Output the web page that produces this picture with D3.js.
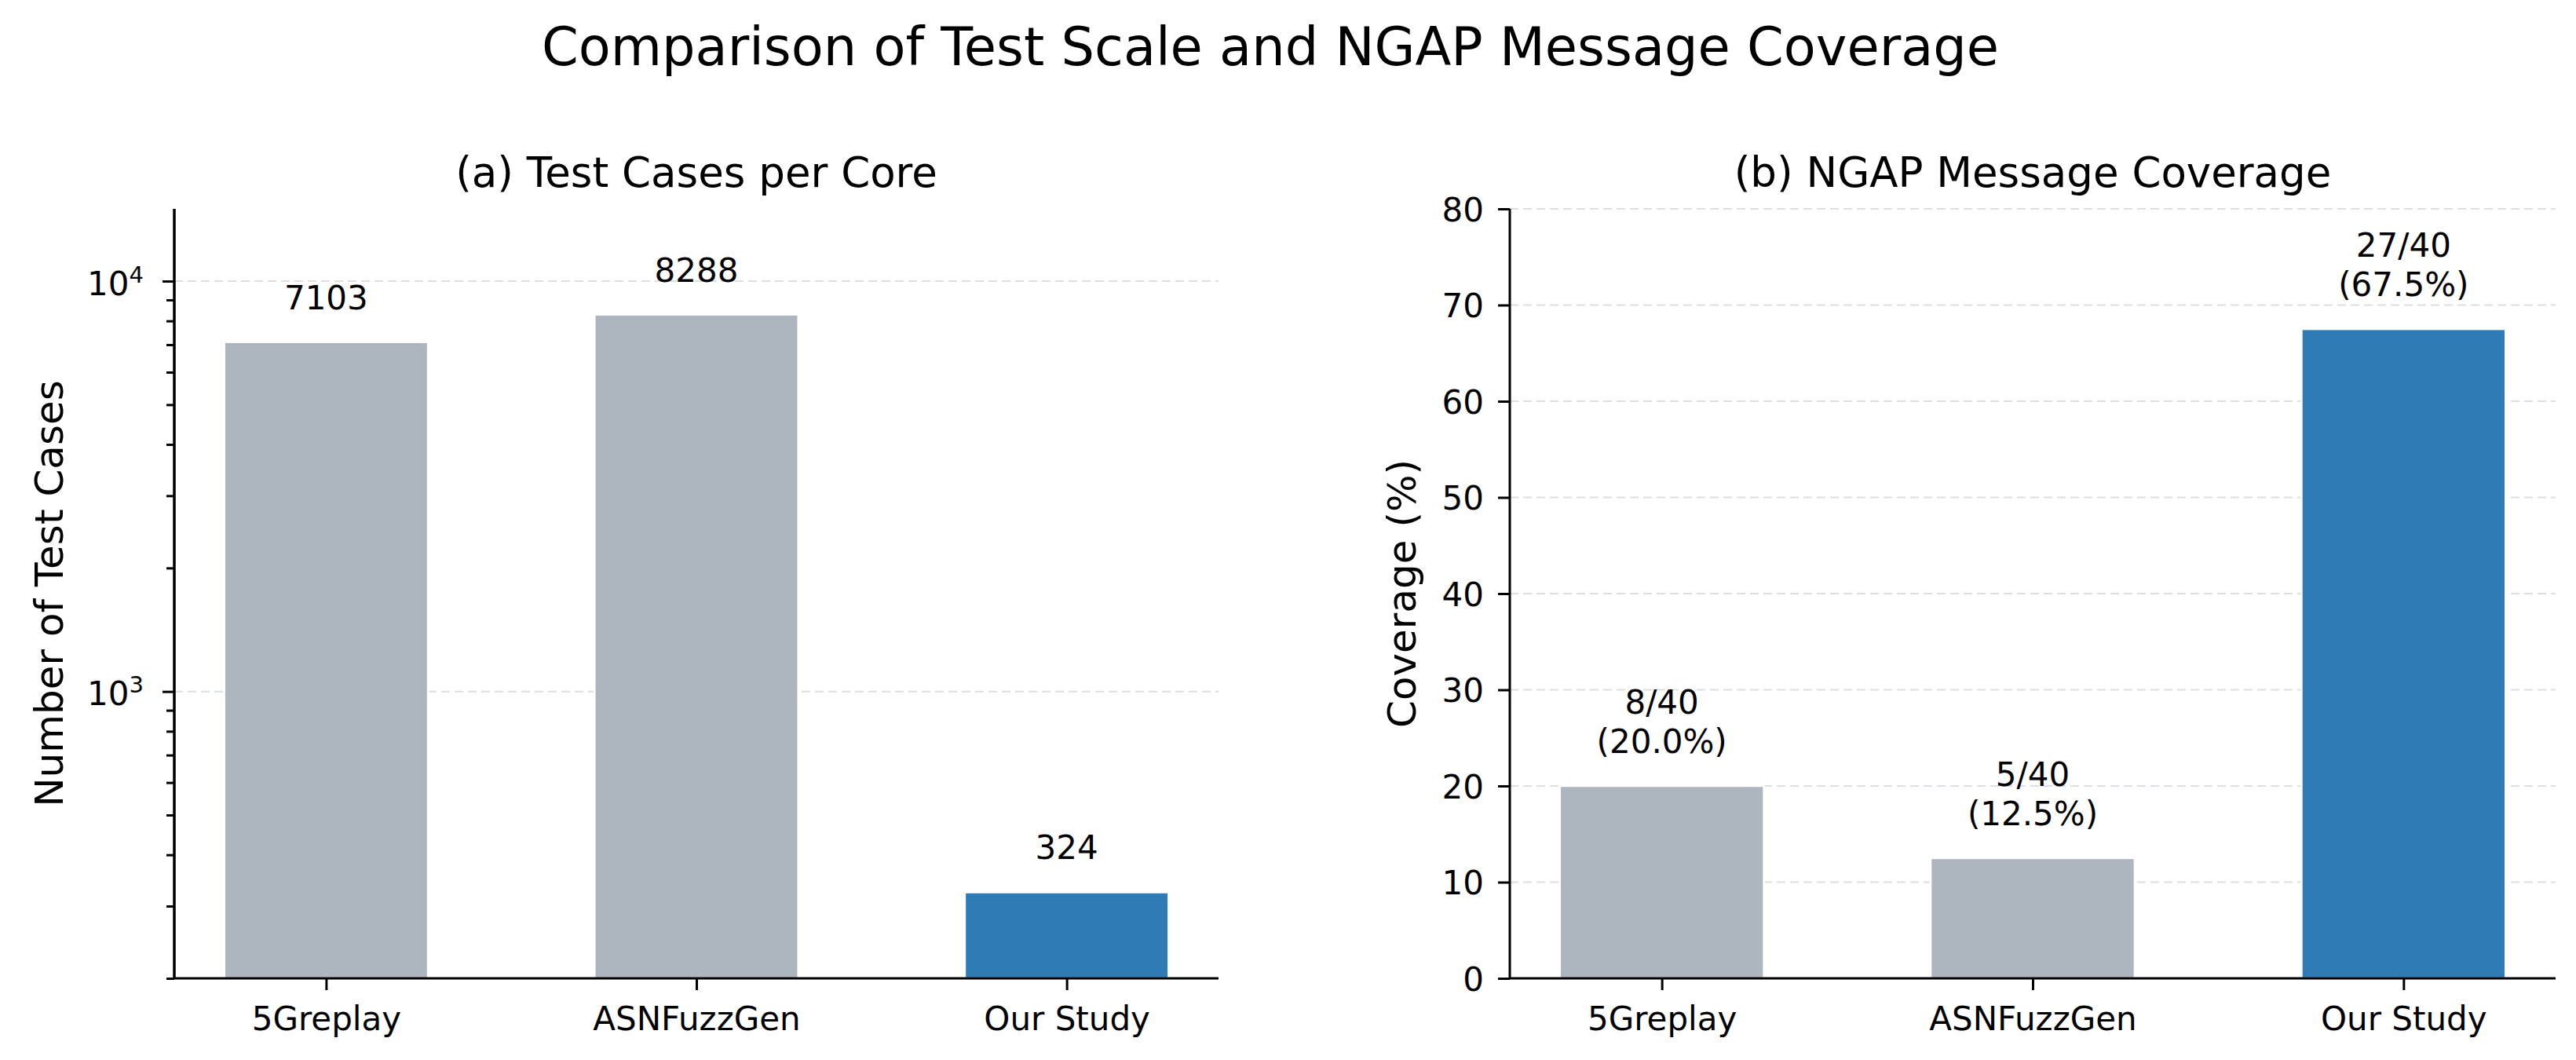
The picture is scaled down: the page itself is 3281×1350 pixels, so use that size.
<!DOCTYPE html>
<html>
<head>
<meta charset="utf-8">
<script src="https://cdn.jsdelivr.net/npm/d3@7"></script>
<style>
  html, body { margin: 0; padding: 0; background: #ffffff; }
  svg { display: block; }
  text { font-family: "DejaVu Sans", sans-serif; fill: #000; }
</style>
</head>
<body>
<svg id="chart" width="3281" height="1350"></svg>
<script>
// ---- data ----
const categories = ["5Greplay", "ASNFuzzGen", "Our Study"];
const testCases = [7103, 8288, 324];
const coveredMessages = [8, 5, 27];
const totalMessages = 40;
const coveragePct = [20.0, 12.5, 67.5];
const barColors = ["#adb5bf", "#adb5bf", "#2e7bb6"];
const logMajorTicks = [1000, 10000];
const logMinorTicks = [200, 300, 400, 500, 600, 700, 800, 900, 2000, 3000, 4000, 5000, 6000, 7000, 8000, 9000];
const coverageTicks = [0, 10, 20, 30, 40, 50, 60, 70, 80];

const mainTitle = "Comparison of Test Scale and NGAP Message Coverage";
const leftTitle = "(a) Test Cases per Core";
const rightTitle = "(b) NGAP Message Coverage";
const leftYLabel = "Number of Test Cases";
const rightYLabel = "Coverage (%)";

// ---- layout ----
const W = 3281, H = 1350;
const plotTop = 266, plotBottom = 1246;
const leftPanel = { x0: 222, x1: 1552 };
const rightPanel = { x0: 1923, x1: 3255 };
const barW = 0.55;
const tickFont = 42, labelFont = 50, titleFont = 53, supFont = 67;
const gridColor = "#dcdfe3";

const svg = d3.select("#chart");
svg.append("rect").attr("width", W).attr("height", H).attr("fill", "#fff");

svg.append("text")
  .attr("x", 1618).attr("y", 83)
  .attr("text-anchor", "middle")
  .style("font-size", supFont + "px")
  .text(mainTitle);

function styleAxis(g) {
  g.select(".domain").attr("stroke", "#000").attr("stroke-width", 3);
  g.selectAll(".tick line").attr("stroke", "#000").attr("stroke-width", 3);
  g.selectAll(".tick text").style("font-size", tickFont + "px").attr("fill", "#000")
    .style("font-family", "'DejaVu Sans', sans-serif");
}

function drawPanel(panel, yScale, values, opts) {
  const x = d3.scaleLinear().domain([-0.41, 2.41]).range([panel.x0, panel.x1]);
  const g = svg.append("g");

  // grid
  g.append("g").selectAll("line").data(opts.gridTicks).join("line")
    .attr("x1", panel.x0).attr("x2", panel.x1)
    .attr("y1", d => yScale(d)).attr("y2", d => yScale(d))
    .attr("stroke", gridColor).attr("stroke-width", 2)
    .attr("stroke-dasharray", "11,6");

  // bars
  g.append("g").selectAll("rect").data(values).join("rect")
    .attr("x", (d, i) => x(i - barW / 2))
    .attr("width", (d, i) => x(i + barW / 2) - x(i - barW / 2))
    .attr("y", d => yScale(d))
    .attr("height", d => yScale.range()[0] - yScale(d))
    .attr("fill", (d, i) => barColors[i])
    .attr("stroke", "#ffffff").attr("stroke-width", 2.5);

  // x axis
  const xAxis = g.append("g")
    .attr("transform", `translate(0,${plotBottom})`)
    .call(d3.axisBottom(x).tickValues([0, 1, 2]).tickFormat(i => categories[i])
      .tickSize(15).tickPadding(21));
  xAxis.select(".domain").attr("d", `M${panel.x0},0H${panel.x1}`);
  styleAxis(xAxis);

  // value labels
  opts.drawLabels(g, x);

  // title
  svg.append("text")
    .attr("x", (panel.x0 + panel.x1) / 2).attr("y", 238)
    .attr("text-anchor", "middle")
    .style("font-size", titleFont + "px")
    .text(opts.title);

  // y label
  svg.append("text")
    .attr("transform", `translate(${opts.yLabelX},${(plotTop + plotBottom) / 2}) rotate(-90)`)
    .attr("text-anchor", "middle")
    .style("font-size", labelFont + "px")
    .text(opts.yLabel);

  return g;
}

// ---- left panel (log scale) ----
const yLog = d3.scaleLog().domain([200, 15000]).range([plotBottom, plotTop]);
const gLeft = drawPanel(leftPanel, yLog, testCases, {
  gridTicks: logMajorTicks,
  title: leftTitle,
  yLabel: leftYLabel,
  yLabelX: 80,
  drawLabels: (g, x) => {
    g.append("g").selectAll("text").data(testCases).join("text")
      .attr("x", (d, i) => x(i))
      .attr("y", d => yLog(d) - 42)
      .attr("text-anchor", "middle")
      .style("font-size", tickFont + "px")
      .text(d => String(d));
  }
});
// minor ticks
const minorAxis = gLeft.append("g")
  .attr("transform", `translate(${leftPanel.x0},0)`)
  .call(d3.axisLeft(yLog).tickValues(logMinorTicks).tickFormat("").tickSize(10));
styleAxis(minorAxis);
minorAxis.select(".domain").attr("d", `M0,${plotTop}V${plotBottom}`);
// major ticks with 10^n labels
const majorAxis = gLeft.append("g")
  .attr("transform", `translate(${leftPanel.x0},0)`)
  .call(d3.axisLeft(yLog).tickValues(logMajorTicks).tickFormat(d => String(d)).tickSize(15).tickPadding(24));
styleAxis(majorAxis);
majorAxis.select(".domain").attr("d", `M0,${plotTop}V${plotBottom}`);
majorAxis.selectAll(".tick text").each(function(d) {
  const t = d3.select(this);
  t.text(null).attr("dy", "17px");
  t.append("tspan").text("10");
  t.append("tspan").attr("dy", "-16px").style("font-size", "29px").text(String(Math.round(Math.log10(d))));
});

// ---- right panel (linear) ----
const yLin = d3.scaleLinear().domain([0, 80]).range([plotBottom, plotTop]);
const gRight = drawPanel(rightPanel, yLin, coveragePct, {
  gridTicks: coverageTicks,
  title: rightTitle,
  yLabel: rightYLabel,
  yLabelX: 1803,
  drawLabels: (g, x) => {
    const lab = g.append("g").selectAll("text").data(coveragePct).join("text")
      .attr("text-anchor", "middle")
      .style("font-size", tickFont + "px");
    lab.append("tspan")
      .attr("x", (d, i) => x(i))
      .attr("y", d => yLin(d) - 42 - 50)
      .text((d, i) => `${coveredMessages[i]}/${totalMessages}`);
    lab.append("tspan")
      .attr("x", (d, i) => x(i))
      .attr("y", d => yLin(d) - 42)
      .text(d => `(${d.toFixed(1)}%)`);
  }
});
const yAxisR = gRight.append("g")
  .attr("transform", `translate(${rightPanel.x0},0)`)
  .call(d3.axisLeft(yLin).tickValues(coverageTicks).tickFormat(d3.format("d")).tickSize(15).tickPadding(18));
styleAxis(yAxisR);
yAxisR.select(".domain").attr("d", `M0,${plotTop}V${plotBottom}`);
yAxisR.selectAll(".tick text").attr("dy", "15px");
</script>
</body>
</html>
